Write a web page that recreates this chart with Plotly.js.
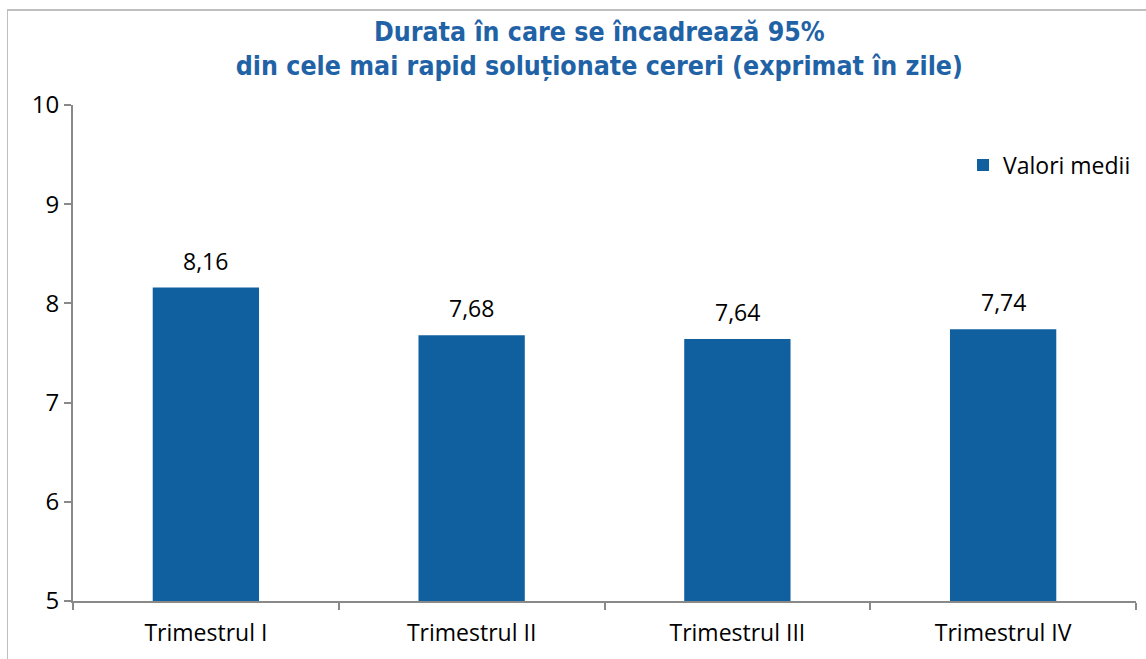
<!DOCTYPE html>
<html>
<head>
<meta charset="utf-8">
<script src="https://cdn.plot.ly/plotly-3.0.1.min.js"></script>
<style>
html,body{margin:0;padding:0;background:#fff;}
#wrap{position:relative;width:1146px;height:659px;}
#chart{position:absolute;left:0;top:0;width:1146px;height:659px;}
#frame{position:absolute;left:7px;top:9px;width:1160px;height:700px;border-left:1px solid #BFBFBF;border-top:2px solid #BFBFBF;pointer-events:none;}
</style>
</head>
<body>
<div id="wrap"><div id="chart"></div><div id="frame"></div></div>
<script>
const categories = ["Trimestrul I", "Trimestrul II", "Trimestrul III", "Trimestrul IV"];
const values = [8.16, 7.68, 7.64, 7.74];
const labels = ["8,16", "7,68", "7,64", "7,74"];
const seriesName = "Valori medii";
const yTicks = [5, 6, 7, 8, 9, 10];

const textFont = "Open Sans, Noto Sans, sans-serif";
const blue = "#1060A0";

const annotations = categories.map((c, i) => ({
  x: c, y: values[i], xref: "x", yref: "y",
  text: labels[i], showarrow: false,
  yanchor: "bottom", yshift: 9,
  font: {family: textFont, size: 23, color: "#000"}
}));

Plotly.newPlot("chart", [{
  type: "bar",
  x: categories,
  y: values,
  name: seriesName,
  marker: {color: blue},
  width: 0.4,
  hoverinfo: "x+y"
}], {
  width: 1146, height: 659,
  margin: {l: 73, r: 10, t: 105, b: 58},
  paper_bgcolor: "rgba(0,0,0,0)",
  plot_bgcolor: "rgba(0,0,0,0)",
  showlegend: true,
  annotations: annotations,
  legend: {x: 1, xanchor: "right", y: 0.879, yanchor: "middle",
    itemwidth: 30,
    font: {family: textFont, size: 23, color: "#000"}, bgcolor: "rgba(0,0,0,0)"},
  title: {
    text: "<b>Durata în care se încadrează 95%<br>din cele mai rapid soluționate cereri (exprimat în zile)</b>",
    font: {family: "DejaVu Sans Condensed, DejaVu Sans, sans-serif", size: 26.5, color: "#1F63A6"},
    x: 0.523, xanchor: "center", y: 0.938, yanchor: "middle"
  },
  xaxis: {
    type: "category",
    showline: true, linecolor: "#898989", linewidth: 2,
    ticks: "outside", tickson: "boundaries", ticklen: 7, tickcolor: "#898989", tickwidth: 2,
    ticklabelstandoff: 10,
    tickfont: {family: textFont, size: 23, color: "#000"},
    showgrid: false, zeroline: false
  },
  yaxis: {
    range: [5, 10],
    tickvals: yTicks,
    ticktext: yTicks.map(String),
    showline: true, linecolor: "#898989", linewidth: 2,
    ticks: "outside", ticklen: 7, tickcolor: "#898989", tickwidth: 2,
    tickfont: {family: textFont, size: 24, color: "#000"},
    showgrid: false, zeroline: false
  },
  bargap: 0.6
}, {displayModeBar: false, staticPlot: true});
</script>
</body>
</html>
